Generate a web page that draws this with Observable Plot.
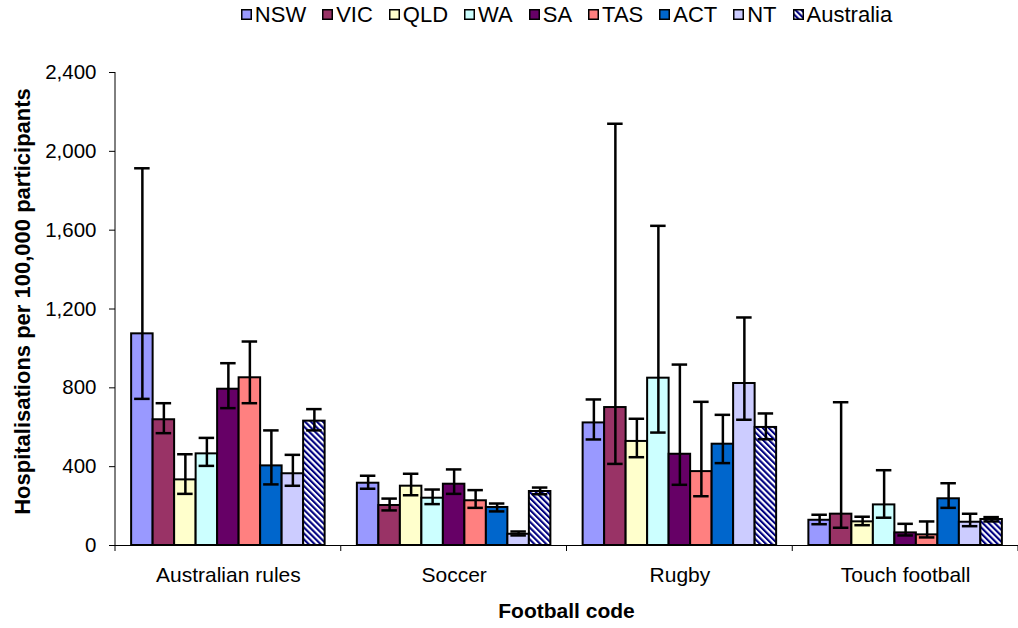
<!DOCTYPE html>
<html>
<head>
<meta charset="utf-8">
<script src="https://cdn.jsdelivr.net/npm/d3@7"></script>
<script src="https://cdn.jsdelivr.net/npm/@observablehq/plot@0.6"></script>
<style>
  body { margin: 0; background: #fff; font-family: "Liberation Sans", Arial, sans-serif; }
  #legend { width: 1018px; height: 29px; box-sizing: border-box; padding-left: 115px;
    display: flex; justify-content: center; align-items: center; font-size: 22px; line-height: 29px; color: #000; }
  #legend .item { display: flex; align-items: center; margin: 0 8px; }
  #legend .item svg { margin-right: 3px; display: block; }
</style>
</head>
<body>
<svg width="0" height="0" style="position:absolute">
  <defs>
    <pattern id="hatch" patternUnits="userSpaceOnUse" width="4.2" height="4.2" patternTransform="rotate(-45)">
      <rect width="4.2" height="4.2" fill="#ffffff"></rect>
      <rect width="2.1" height="4.2" fill="#000080"></rect>
    </pattern>
  </defs>
</svg>
<div id="legend"></div>
<div id="chart"></div>
<script>
// ---- data ----
const codes = ["Australian rules", "Soccer", "Rugby", "Touch football"];
const states = ["NSW", "VIC", "QLD", "WA", "SA", "TAS", "ACT", "NT", "Australia"];
const colors = ["#9999FF", "#993366", "#FFFFCC", "#CCFFFF", "#660066", "#FF8080", "#0066CC", "#CCCCFF", "url(#hatch)"];
const yTicks = [0, 400, 800, 1200, 1600, 2000, 2400];

const ausRulesRate = [1074, 638, 333, 465, 793, 851, 404, 364, 631];
const ausRulesLow  = [744, 570, 262, 404, 697, 722, 310, 303, 584];
const ausRulesHigh = [1914, 722, 463, 546, 925, 1035, 584, 460, 692];

const soccerRate = [316, 203, 301, 240, 311, 227, 193, 57, 274];
const soccerLow  = [288, 178, 255, 210, 262, 191, 173, 51, 260];
const soccerHigh = [354, 238, 364, 284, 386, 281, 213, 71, 294];

const rugbyRate = [622, 700, 528, 849, 463, 375, 514, 822, 599];
const rugbyLow  = [538, 414, 448, 573, 308, 250, 418, 638, 539];
const rugbyHigh = [741, 2140, 643, 1622, 918, 729, 663, 1157, 670];

const touchRate = [128, 159, 120, 206, 64, 54, 237, 118, 132];
const touchLow  = [108, 90, 103, 141, 51, 41, 191, 98, 122];
const touchHigh = [156, 727, 146, 382, 110, 122, 316, 161, 144];

const yTitle = "Hospitalisations per 100,000 participants";
const xTitle = "Football code";

// ---- table ----
const series = [
  [ausRulesRate, ausRulesLow, ausRulesHigh],
  [soccerRate, soccerLow, soccerHigh],
  [rugbyRate, rugbyLow, rugbyHigh],
  [touchRate, touchLow, touchHigh]
];
const rows = [];
codes.forEach((c, ci) => {
  states.forEach((s, si) => {
    rows.push({code: c, state: s, value: series[ci][0][si], lo: series[ci][1][si], hi: series[ci][2][si]});
  });
});

// ---- legend ----
const legend = d3.select("#legend");
states.forEach((s, i) => {
  const item = legend.append("span").attr("class", "item");
  const sw = item.append("svg").attr("width", 11).attr("height", 11);
  sw.append("rect").attr("x", 0.75).attr("y", 0.75).attr("width", 9.5).attr("height", 9.5)
    .attr("fill", colors[i]).attr("stroke", "#000").attr("stroke-width", 1.5);
  item.append("span").text(s);
});

// ---- plot ----
const W = 1018, H = 599;
const fmt = d3.format(",");
const plot = Plot.plot({
  width: W,
  height: H,
  marginLeft: 115,
  marginRight: 0,
  marginTop: 43,
  marginBottom: 83,
  style: {fontFamily: "Liberation Sans, Arial, sans-serif", fontSize: "20px", color: "#000", background: "#fff"},
  fx: {domain: codes, padding: 0, label: null, round: false},
  x: {domain: states, paddingInner: 0, paddingOuter: 0.75, axis: null, round: false},
  y: {domain: [0, 2400], label: null},
  color: {type: "ordinal", domain: states, range: colors},
  marks: [
    Plot.barY(rows, {fx: "code", x: "state", y: "value", fill: "state", stroke: "#000", strokeWidth: 2}),
    Plot.ruleX(rows, {fx: "code", x: "state", y1: "lo", y2: "hi", stroke: "#000", strokeWidth: 2.5}),
    Plot.tickY(rows, {fx: "code", x: "state", y: "lo", stroke: "#000", strokeWidth: 2.5, insetLeft: 3, insetRight: 3}),
    Plot.tickY(rows, {fx: "code", x: "state", y: "hi", stroke: "#000", strokeWidth: 2.5, insetLeft: 3, insetRight: 3}),
    Plot.ruleY([0], {stroke: "#000", strokeWidth: 1}),
    Plot.axisY({ticks: yTicks, tickFormat: fmt, tickSize: 6, tickPadding: 13, fontSize: 20.5, label: null}),
    Plot.axisFx({anchor: "bottom", tickSize: 0, tickPadding: 22, fontSize: 21, label: null})
  ]
});
document.getElementById("chart").appendChild(plot);

// ---- axis line, category boundary ticks, titles ----
const svg = d3.select(plot);
const fxS = plot.scale("fx");
const yS = plot.scale("y");
const bandStart = (c) => fxS.apply ? fxS.apply(c) : d3.scaleBand().domain(fxS.domain).range(fxS.range)(c);
const bw = fxS.bandwidth != null ? fxS.bandwidth : (fxS.range[1] - fxS.range[0]) / codes.length;
const yPos = (v) => yS.apply ? yS.apply(v) : d3.scaleLinear().domain(yS.domain).range(yS.range)(v);
const y0 = yPos(0), yTop = yPos(2400);
const x0 = bandStart(codes[0]);

svg.append("line").attr("x1", x0).attr("x2", x0).attr("y1", yTop).attr("y2", y0)
  .attr("stroke", "#000").attr("stroke-width", 1);
const bounds = codes.map(bandStart).concat([bandStart(codes[codes.length - 1]) + bw]);
bounds.forEach(b => {
  svg.append("line").attr("x1", b).attr("x2", b).attr("y1", y0).attr("y2", y0 + 6)
    .attr("stroke", "#000").attr("stroke-width", 1);
});
svg.append("text")
  .attr("transform", `translate(22,${(yTop + y0) / 2 - 7}) rotate(-90)`)
  .attr("text-anchor", "middle").attr("dominant-baseline", "central")
  .attr("font-weight", "bold").attr("font-size", 22).attr("fill", "#000")
  .text(yTitle);
svg.append("text")
  .attr("x", (x0 + bounds[bounds.length - 1]) / 2).attr("y", y0 + 73)
  .attr("text-anchor", "middle")
  .attr("font-weight", "bold").attr("font-size", 21).attr("fill", "#000")
  .text(xTitle);
</script>
</body>
</html>
